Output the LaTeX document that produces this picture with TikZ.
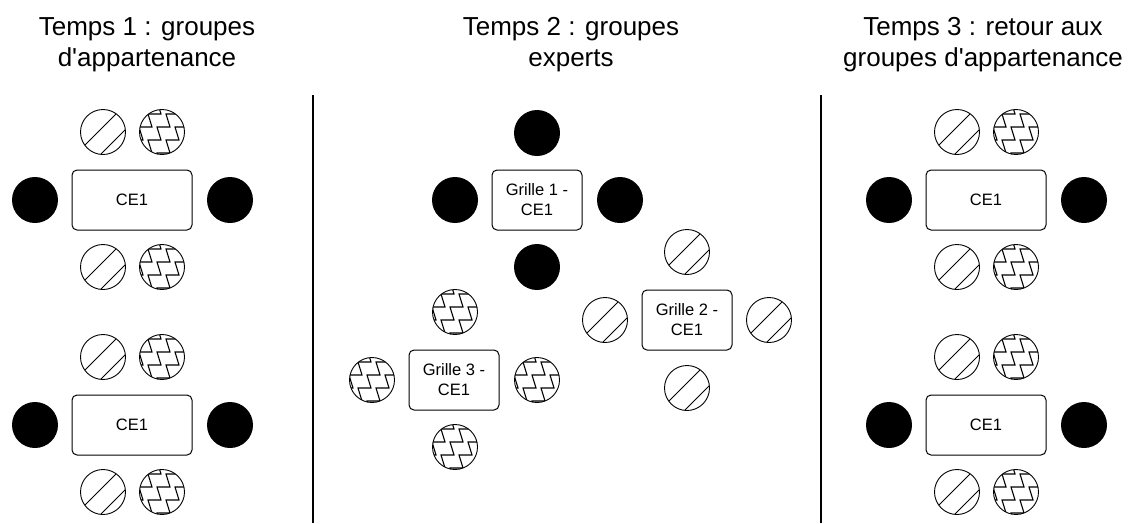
\documentclass[tikz,border=0pt]{standalone}
\usepackage{fontspec}
\setmainfont{Liberation Sans}[Ligatures=TeXOff]
\tikzset{
	noir/.style={circle,fill=black,minimum size=46pt,inner sep=0pt},
	hachure/.style={circle,draw,line width=0.9pt,minimum size=45pt,inner sep=0pt,
		path picture={
			\draw[line width=0.9pt] ([shift={(-32.5,27.5)}]path picture bounding box.center) -- ++(60,-60);
			\draw[line width=0.9pt] ([shift={(-20,40)}]path picture bounding box.center) -- ++(60,-60);
		}},
	zigzague/.style={circle,draw,line width=0.9pt,minimum size=45pt,inner sep=0pt,
		path picture={
			\foreach \dx in {-50,-32,-14,4}
				\draw[line width=1.1pt] ([shift={(\dx,34)}]path picture bounding box.center)
					\foreach \k in {1,...,6}{-- ++(13,0) -- ++(-4,-13)};
		}},
	boite/.style={draw,rounded corners=5pt,line width=1pt,minimum width=120pt,minimum height=60pt,
		align=center,font=\fontsize{16.5}{20}\selectfont},
	grille/.style={boite,minimum width=90pt},
	titre/.style={align=center,font=\fontsize{26}{31}\selectfont}
}
\begin{document}
\begin{tikzpicture}[x=1pt,y=-1pt]
		\useasboundingbox (0,0) rectangle (1133,523);
		
		% titres
		\node[titre] (titre1) at (147,45) {Temps 1 : groupes\\d'appartenance};
		\node[titre] (titre2) at (571,45) {Temps 2 : groupes\\experts};
		\node[titre] (titre3) at (983,45) {Temps 3 : retour aux\\groupes d'appartenance};
		
		\draw[line width=1.3pt] (313,95)--(313,523);
		\draw[line width=1.3pt] (821,95)--(821,523);
		
		% temps 1
		\node[boite] (ce1a) at (132,200) {CE1};
		\node[noir] (a-g) at (35,200) {};
		\node[noir] (a-d) at (230,200) {};
		\node[hachure] (a-h1) at (103,132) {};
		\node[zigzague] (a-z1) at (162,132) {};
		\node[hachure] (a-h2) at (103,267) {};
		\node[zigzague] (a-z2) at (162,267) {};
		
		\node[boite] (ce1b) at (132,425) {CE1};
		\node[noir] (b-g) at (35,425) {};
		\node[noir] (b-d) at (230,425) {};
		\node[hachure] (b-h1) at (103,357) {};
		\node[zigzague] (b-z1) at (162,357) {};
		\node[hachure] (b-h2) at (103,492) {};
		\node[zigzague] (b-z2) at (162,492) {};
		
		% temps 2
		\node[grille] (grille1) at (537,200) {Grille 1 -\\CE1};
		\node[noir] (g1-h) at (537,133) {};
		\node[noir] (g1-g) at (455,200) {};
		\node[noir] (g1-d) at (620,200) {};
		\node[noir] (g1-b) at (537,267) {};
		
		\node[grille] (grille2) at (687,320) {Grille 2 -\\CE1};
		\node[hachure] (g2-h) at (687,252) {};
		\node[hachure] (g2-g) at (605,320) {};
		\node[hachure] (g2-d) at (769,320) {};
		\node[hachure] (g2-b) at (687,388) {};
		
		\node[grille] (grille3) at (454,380) {Grille 3 -\\CE1};
		\node[zigzague] (g3-h) at (455,312) {};
		\node[zigzague] (g3-g) at (372,380) {};
		\node[zigzague] (g3-d) at (537,380) {};
		\node[zigzague] (g3-b) at (455,447) {};
		
		% temps 3
		\node[boite] (ce1c) at (986,200) {CE1};
		\node[noir] (c-g) at (889,200) {};
		\node[noir] (c-d) at (1084,200) {};
		\node[hachure] (c-h1) at (957,132) {};
		\node[zigzague] (c-z1) at (1016,132) {};
		\node[hachure] (c-h2) at (957,267) {};
		\node[zigzague] (c-z2) at (1016,267) {};
		
		\node[boite] (ce1d) at (986,425) {CE1};
		\node[noir] (d-g) at (889,425) {};
		\node[noir] (d-d) at (1084,425) {};
		\node[hachure] (d-h1) at (957,357) {};
		\node[zigzague] (d-z1) at (1016,357) {};
		\node[hachure] (d-h2) at (957,492) {};
		\node[zigzague] (d-z2) at (1016,492) {};
		
		\end{tikzpicture}
\end{document}
